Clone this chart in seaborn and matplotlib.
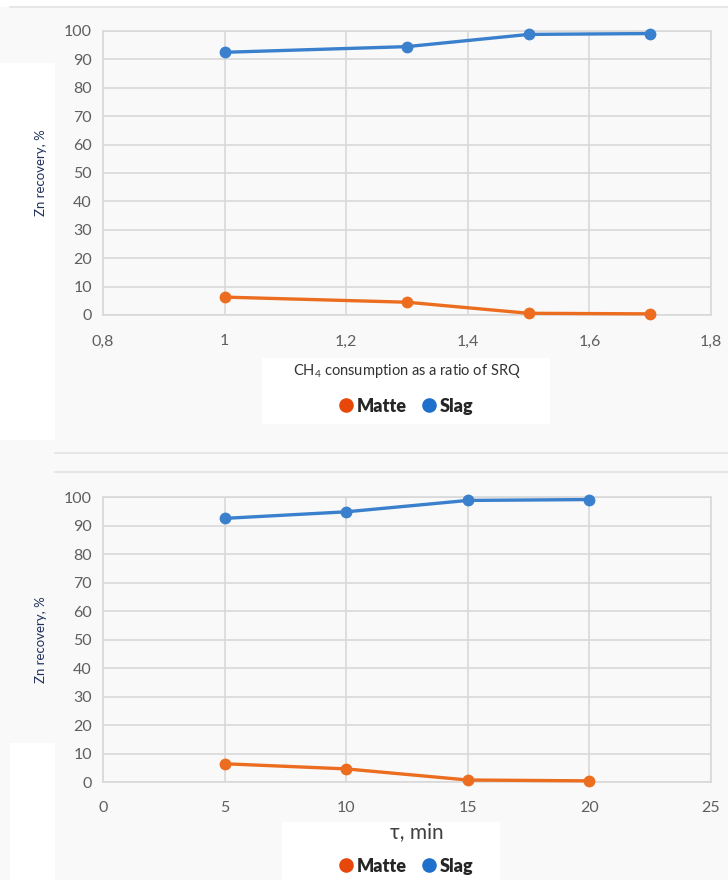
import matplotlib
matplotlib.use("Agg")
import matplotlib.pyplot as plt
import seaborn as sns
import pandas as pd
from matplotlib.patches import Rectangle
from matplotlib.lines import Line2D
from matplotlib.ticker import FuncFormatter, MultipleLocator

# ---- data ----
ratio_x = [1.0, 1.3, 1.5, 1.7]
ratio_matte = [6.3, 4.5, 0.6, 0.4]
ratio_slag = [92.5, 94.5, 98.8, 99.1]

time_x = [5, 10, 15, 20]
time_matte = [6.4, 4.6, 0.7, 0.4]
time_slag = [92.5, 94.8, 98.8, 99.1]

series_names = ["Matte", "Slag"]
top_xlabel = "CH$_4$ consumption as a ratio of SRQ"
bottom_xlabel = "τ, min"
ylabel = "Zn recovery, %"

colors = {"Matte": "#ec6d1f", "Slag": "#3a80cc"}
legend_colors = {"Matte": "#e8470a", "Slag": "#1f6fcc"}

sns.set_theme(style="white")
plt.rcParams["font.family"] = ["Lato", "DejaVu Sans"]
plt.rcParams["mathtext.default"] = "regular"

W, H = 728, 880
fig = plt.figure(figsize=(W / 100, H / 100), dpi=100, facecolor="#f9f9f9")


def rect_px(x0, y0, x1, y1, color="white"):
    fig.add_artist(Rectangle((x0 / W, 1 - y1 / H), (x1 - x0) / W, (y1 - y0) / H,
                             transform=fig.transFigure, facecolor=color,
                             edgecolor="none", zorder=0))


def hline_px(y, x0, x1, color="#e6e6e6", lw=1.5):
    fig.add_artist(Line2D([x0 / W, x1 / W], [1 - y / H, 1 - y / H],
                          transform=fig.transFigure, color=color, lw=lw, zorder=0))


# screenshot-style white patches
rect_px(0, 0, 728, 7)
hline_px(7, 10, 728)
rect_px(0, 63, 55, 440)
rect_px(262, 358, 550, 424)
hline_px(453, 55, 728)
hline_px(472, 55, 728)
rect_px(10, 743, 55, 880)
rect_px(282, 822, 500, 880)


def make_panel(rect, xs, matte, slag, xlim, xstep, fmt):
    ax = fig.add_axes(rect)
    ax.set_facecolor("none")
    df = pd.DataFrame({
        "x": list(xs) * 2,
        "y": list(matte) + list(slag),
        "series": [series_names[0]] * len(xs) + [series_names[1]] * len(xs),
    })
    sns.lineplot(data=df, x="x", y="y", hue="series", palette=colors,
                 marker="o", markersize=8.5, markeredgewidth=0, linewidth=2.4,
                 legend=False, ax=ax, clip_on=False, zorder=3)
    ax.set_xlim(*xlim)
    ax.set_ylim(0, 100)
    ax.xaxis.set_major_locator(MultipleLocator(xstep))
    ax.yaxis.set_major_locator(MultipleLocator(10))
    ax.xaxis.set_major_formatter(FuncFormatter(fmt))
    ax.grid(True, color="#d9d9d9", linewidth=1.2)
    for s in ax.spines.values():
        s.set_color("#d9d9d9")
        s.set_linewidth(1.2)
    ax.tick_params(axis="both", colors="#5f5f5f", labelsize=11.5, length=0)
    ax.tick_params(axis="x", pad=14)
    ax.tick_params(axis="y", pad=8)
    ax.set_xlabel("")
    ax.set_ylabel(ylabel, fontsize=9.5, color="#1f2f5c", labelpad=12)
    return ax


def comma_fmt(v, pos):
    return f"{v:g}".replace(".", ",")


def int_fmt(v, pos):
    return f"{v:g}"


ax1 = make_panel([103 / W, 1 - 315 / H, 608 / W, 284 / H],
                 ratio_x, ratio_matte, ratio_slag, (0.8, 1.8), 0.2, comma_fmt)
ax2 = make_panel([103 / W, 1 - 782 / H, 608 / W, 285 / H],
                 time_x, time_matte, time_slag, (0, 25), 5, int_fmt)

fig.text(407 / W, 1 - 371 / H, top_xlabel, ha="center", va="center",
         fontsize=10.5, color="#333333")
fig.text(417 / W, 1 - 832 / H, bottom_xlabel, ha="center", va="center",
         fontsize=15, color="#404040")

handles = [Line2D([], [], linestyle="none", marker="o", markersize=10.5,
                  markerfacecolor=legend_colors[n], markeredgewidth=0) for n in series_names]
for ycen in (406, 866):
    fig.legend(handles, series_names, loc="center", ncol=2,
               bbox_to_anchor=(405 / W, 1 - ycen / H), frameon=False,
               prop={"weight": "heavy", "size": 13}, handletextpad=0.1,
               columnspacing=0.7, handlelength=1.0)

fig.savefig("out.png", dpi=100, facecolor=fig.get_facecolor())
